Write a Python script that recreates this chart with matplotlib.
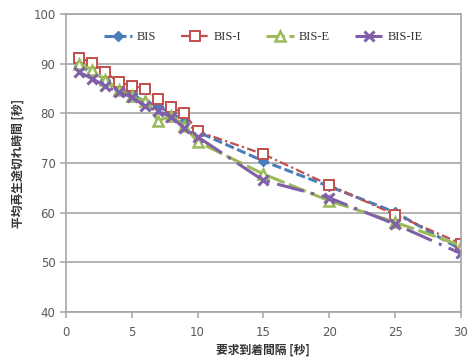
import matplotlib
matplotlib.use("Agg")
import matplotlib.pyplot as plt

# Data
x = [1, 2, 3, 4, 5, 6, 7, 8, 9, 10, 15, 20, 25, 30]
bis = [89.5, 88.2, 86.8, 85.0, 84.0, 82.3, 81.5, 80.0, 78.5, 76.3, 70.4, 65.3, 60.1, 52.6]
bis_i = [91.2, 90.2, 88.3, 86.3, 85.6, 85.0, 82.8, 81.3, 80.0, 76.4, 71.8, 65.6, 59.6, 53.8]
bis_e = [90.0, 88.8, 86.7, 84.8, 83.5, 82.5, 78.5, 79.5, 77.5, 74.3, 67.8, 62.4, 58.1, 53.4]
bis_ie = [88.3, 87.0, 85.5, 84.3, 83.3, 81.5, 80.5, 79.3, 77.0, 75.3, 66.5, 63.0, 57.7, 51.8]

x_ticks = [0, 5, 10, 15, 20, 25, 30]
y_ticks = [40, 50, 60, 70, 80, 90, 100]

JP = ['Noto Sans CJK JP', 'DejaVu Sans']
GRID = '#a6a6a6'

fig = plt.figure(figsize=(4.67, 3.6), dpi=100)
ax = fig.add_axes([0.141, 0.133, 0.846, 0.828])

ax.plot(x, bis, color='#4a7ebb', linestyle=(0, (3, 1.2)), linewidth=2.2,
        marker='D', markersize=5, markerfacecolor='#4a7ebb', label='BIS')
ax.plot(x, bis_i, color='#c0504d', linestyle=(0, (4, 1.5, 1, 1.5)), linewidth=1.6,
        marker='s', markersize=7, markerfacecolor='white', markeredgewidth=1.4, label='BIS-I')
ax.plot(x, bis_e, color='#9bbb59', linestyle=(0, (6, 1.5)), linewidth=2.2,
        marker='^', markersize=7, markerfacecolor='white', markeredgewidth=1.8, label='BIS-E')
ax.plot(x, bis_ie, color='#7f5fa8', linestyle=(0, (9, 2.5, 1, 2.5)), linewidth=2.2,
        marker='x', markersize=7.5, markeredgewidth=2.2, label='BIS-IE')

ax.set_xlim(0, 30)
ax.set_ylim(40, 100)
ax.set_xticks(x_ticks)
ax.set_yticks(y_ticks)
ax.yaxis.grid(True, color=GRID, linewidth=1.2)
ax.set_axisbelow(True)

for side in ['left', 'bottom', 'right', 'top']:
    ax.spines[side].set_color(GRID)
    ax.spines[side].set_linewidth(1.2)

ax.tick_params(axis='both', colors=GRID, length=4, width=1.1, labelsize=8.5,
               labelcolor='#595959')
ax.tick_params(axis='x', pad=6)

ax.set_xlabel('要求到着間隔 [秒]', family=JP, fontsize=8.5, fontweight='bold',
              color='#333333', labelpad=3)
ax.set_ylabel('平均再生途切れ時間 [秒]', family=JP, fontsize=8.5, fontweight='bold',
              color='#333333', labelpad=6)

leg = ax.legend(loc='upper center', bbox_to_anchor=(0.5, 0.98), ncol=4, frameon=False,
                prop={'family': 'Liberation Serif', 'size': 9},
                handlelength=2.2, handletextpad=0.4, columnspacing=2.0)
for t in leg.get_texts():
    t.set_color('#333333')

fig.savefig('out.png', dpi=100)
